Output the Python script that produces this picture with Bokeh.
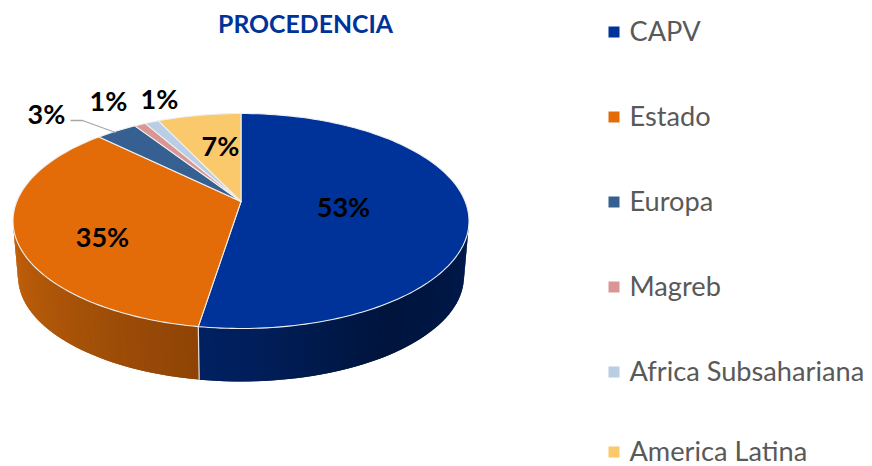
import math
from bokeh.plotting import figure
from bokeh.models import Range1d
from bokeh.core.properties import value
from bokeh.embed import file_html
from bokeh.resources import INLINE

categories = ["CAPV", "Estado", "Europa", "Magreb", "Africa Subsahariana", "America Latina"]
shares = [53.0, 36.3, 3.0, 0.8, 1.0, 5.9]
labels = ["53%", "35%", "3%", "1%", "1%", "7%"]
colors = ["#003399", "#E36C09", "#376092", "#D99694", "#B9CDE5", "#FAC96B"]

W, H = 872, 466
p = figure(width=W, height=H, x_range=Range1d(0, W), y_range=Range1d(H, 0),
           output_backend="svg", toolbar_location=None, min_border=0,
           x_axis_location=None, y_axis_location=None, outline_line_color=None,
           background_fill_color="white", border_fill_color="white")
p.grid.visible = False

CX, CY, RX, RY = 240.5, 220.5, 228, 107.5    # top ellipse
BCY, BRX, BRY = 276, 223, 105                # bottom ellipse
AY = 201                                     # wedge apex


def top(a):
    return CX + RX * math.sin(a), CY - RY * math.cos(a)


def bot(a):
    return CX + BRX * math.sin(a), BCY - BRY * math.cos(a)


def hex2(c):
    return tuple(int(c[i:i + 2], 16) for i in (1, 3, 5))


def ramp(stops, t):
    for (t0, c0), (t1, c1) in zip(stops, stops[1:]):
        if t <= t1:
            f = (t - t0) / (t1 - t0)
            a, b = hex2(c0), hex2(c1)
            return "#%02x%02x%02x" % tuple(round(a[i] + (b[i] - a[i]) * f) for i in range(3))
    return stops[-1][1]


total = sum(shares)
edges = [0.0]
for s in shares:
    edges.append(edges[-1] + s / total * 2 * math.pi)

# side wall: blue part, then orange part, as overlapping strips so no seams show
side_stops = {
    0: [(0.0, "#001A4E"), (0.5, "#00143C"), (0.85, "#001E59"), (1.0, "#002060")],
    1: [(0.0, "#8E4406"), (1.0, "#C4620B")],
}
for idx, a0, a1 in [(0, math.pi / 2, edges[1]), (1, edges[1], 1.5 * math.pi)]:
    n = 48
    xs, ys, cs = [], [], []
    for k in range(n):
        u0 = a0 + (a1 - a0) * k / n
        u1 = a0 + (a1 - a0) * min(k + 2, n) / n
        t0, t1 = top(u0), top(u1)
        b0, b1 = bot(u0), bot(u1)
        xs.append([t0[0], t1[0], b1[0], b0[0]])
        ys.append([t0[1], t1[1], b1[1], b0[1]])
        cs.append(ramp(side_stops[idx], (k + 0.5) / n))
    p.patches(xs, ys, fill_color=cs, line_color=None)

# separator on the wall
a = edges[1]
p.line([top(a)[0], bot(a)[0]], [top(a)[1], bot(a)[1]], line_color="#E4E4E4", line_width=1.2)

# top face
for i, c in enumerate(colors):
    n = max(4, int((edges[i + 1] - edges[i]) * 40))
    arc = [top(edges[i] + (edges[i + 1] - edges[i]) * k / n) for k in range(n + 1)]
    xs = [CX] + [q[0] for q in arc]
    ys = [AY] + [q[1] for q in arc]
    p.patch(xs, ys, fill_color=c, line_color="#EFEFEF", line_width=1.1, line_join="round")

# leader line of the Europa label
p.line([70, 82, 115], [120, 120, 132], line_color="#A6A6A6", line_width=1.3)

# data labels
lab_x = [343, 102, 46, 108, 159, 220]
lab_y = [206, 236, 113, 100, 98, 145]
p.text(lab_x, lab_y, text=labels, text_font=value("Lato"), text_font_style="bold",
       text_font_size="27px", text_color="#000000", text_align="center", text_baseline="middle")

# title
p.text([305], [23], text=["PROCEDENCIA"], text_font=value("Lato"), text_font_style="bold",
       text_font_size="24.8px", text_color="#003399", text_align="center", text_baseline="middle")

# legend
leg_y = [30, 115, 200, 285, 370, 450]
p.rect([613.5] * 6, [y + 1.5 for y in leg_y], width=11, height=11, fill_color=colors, line_color=None)
p.text([629] * 6, leg_y, text=categories, text_font=value("Lato"), text_font_size="27.2px",
       text_color="#595959", text_align="left", text_baseline="middle")

open("out.html", "w").write(file_html(p, INLINE))
